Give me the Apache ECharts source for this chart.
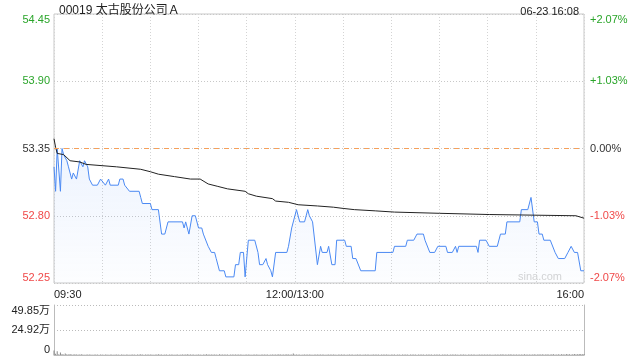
<!DOCTYPE html>
<html>
<head>
<meta charset="utf-8">
<style>
  html, body { margin: 0; padding: 0; background: #fff; }
  #chart { width: 640px; height: 360px; }
</style>
<script src="https://cdn.jsdelivr.net/npm/echarts@6/dist/echarts.min.js"></script>
</head>
<body>
<div id="chart"></div>
<script>
// minutes from 09:30 (lunch break removed), 330 = 16:00
const priceTimes = [0, 1, 2, 4, 5, 6, 7, 8, 9, 11, 12, 14, 16, 17, 18, 19, 20, 21, 22, 23, 24, 27, 29, 30, 32, 34, 35, 40, 41, 43, 44, 45, 47, 53, 54, 55, 60, 61, 65, 67, 69, 71, 80, 81, 82, 84, 85, 86, 88, 90, 92, 93, 94, 96, 98, 100, 101, 103, 106, 107, 112, 113, 115, 116, 118, 119, 120, 121, 125, 127, 128, 130, 132, 133, 135, 136, 137, 138, 145, 146, 147, 148, 149, 151, 153, 156, 158, 159, 161, 162, 164, 166, 167, 170, 171, 173, 175, 176, 181, 182, 185, 186, 188, 191, 200, 201, 211, 212, 219, 220, 224, 226, 230, 231, 232, 234, 237, 239, 244, 245, 248, 250, 251, 252, 263, 264, 265, 269, 271, 276, 278, 281, 282, 290, 291, 295, 297, 298, 299, 301, 302, 304, 305, 309, 312, 314, 318, 320, 322, 324, 326, 328, 330];
const priceValues = [53.20, 53.00, 53.35, 53.00, 53.35, 53.30, 53.30, 53.25, 53.20, 53.10, 53.15, 53.10, 53.25, 53.25, 53.20, 53.25, 53.25, 53.20, 53.10, 53.10, 53.05, 53.05, 53.10, 53.10, 53.05, 53.10, 53.05, 53.05, 53.10, 53.10, 53.05, 53.05, 53.00, 53.00, 52.95, 52.90, 52.90, 52.85, 52.85, 52.65, 52.65, 52.75, 52.75, 52.70, 52.75, 52.65, 52.65, 52.80, 52.80, 52.70, 52.70, 52.65, 52.65, 52.55, 52.50, 52.50, 52.45, 52.35, 52.35, 52.30, 52.30, 52.40, 52.40, 52.50, 52.50, 52.30, 52.30, 52.60, 52.60, 52.50, 52.40, 52.40, 52.45, 52.40, 52.35, 52.30, 52.30, 52.50, 52.50, 52.55, 52.55, 52.70, 52.70, 52.85, 52.75, 52.75, 52.85, 52.80, 52.75, 52.75, 52.40, 52.55, 52.50, 52.50, 52.55, 52.40, 52.40, 52.60, 52.60, 52.55, 52.55, 52.45, 52.45, 52.35, 52.35, 52.50, 52.50, 52.55, 52.55, 52.60, 52.60, 52.65, 52.65, 52.60, 52.60, 52.50, 52.50, 52.55, 52.55, 52.50, 52.50, 52.55, 52.50, 52.55, 52.55, 52.50, 52.60, 52.60, 52.55, 52.55, 52.65, 52.65, 52.75, 52.75, 52.85, 52.85, 52.95, 52.95, 52.75, 52.75, 52.65, 52.65, 52.60, 52.60, 52.50, 52.45, 52.45, 52.50, 52.55, 52.50, 52.50, 52.35, 52.35];

const avgTimes = [0, 1, 2, 6, 10, 16, 20, 39, 54, 60, 65, 75, 85, 91, 96, 102, 108, 119, 121, 126, 136, 138, 146, 152, 164, 174, 180, 187, 200, 212, 240, 271, 325, 330];
const avgValues = [53.43, 53.36, 53.31, 53.30, 53.25, 53.24, 53.22, 53.20, 53.18, 53.16, 53.14, 53.12, 53.10, 53.10, 53.06, 53.04, 53.02, 53.00, 52.98, 52.96, 52.94, 52.92, 52.91, 52.89, 52.88, 52.87, 52.86, 52.85, 52.84, 52.83, 52.82, 52.81, 52.80, 52.78];

// volume per minute, in 万 shares
const volumeWan = [
  4.5, 1.2, 3.8, 0.8, 2.6, 1.0, 0.6, 1.5, 0.7, 0.5, 0.9, 0.6, 0.4, 0.8, 0.5, 0.6, 0.4, 0.7, 0.5, 0.3, 0.6, 0.5, 0.4, 0.6, 0.3, 0.5, 0.4, 0.6, 0.3, 0.5,
  0.4, 0.3, 0.5, 0.6, 0.3, 0.4, 0.5, 0.3, 0.4, 0.6, 0.5, 0.3, 0.4, 0.5, 0.3, 0.6, 0.4, 0.3, 0.5, 0.4, 0.6, 0.3, 0.4, 0.5, 0.7, 0.4, 0.3, 0.5, 0.4, 0.6,
  0.5, 0.4, 0.3, 0.6, 0.5, 0.8, 0.4, 0.6, 0.3, 0.5, 0.4, 0.3, 0.5, 0.4, 0.6, 0.3, 0.4, 0.5, 0.3, 0.4, 0.6, 0.5, 0.4, 0.7, 0.5, 0.6, 0.4, 0.5, 0.3, 0.6,
  0.4, 0.5, 0.3, 0.6, 0.4, 0.7, 0.5, 0.4, 0.6, 0.5, 0.4, 0.6, 0.3, 0.8, 0.5, 0.4, 0.6, 0.5, 0.4, 0.3, 0.5, 0.4, 0.6, 0.5, 0.4, 0.6, 0.5, 0.4, 0.3, 0.5,
  0.6, 0.4, 0.5, 0.3, 0.4, 0.6, 0.5, 0.4, 0.3, 0.5, 0.4, 0.6, 0.5, 0.4, 0.3, 0.5, 0.6, 0.4, 0.5, 0.4, 0.7, 0.5, 0.4, 0.6, 0.5, 0.8, 0.6, 0.5, 0.4, 1.6,
  0.5, 0.6, 0.4, 0.5, 0.3, 0.6, 0.5, 0.4, 0.6, 0.5, 0.4, 0.3, 0.6, 0.5, 0.4, 0.5, 0.6, 0.4, 0.5, 0.3, 0.4, 0.6, 0.5, 0.4, 0.6, 0.5, 0.3, 0.4, 0.5, 0.6,
  0.4, 0.5, 0.3, 0.6, 0.4, 0.5, 0.4, 0.3, 0.5, 0.6, 0.4, 0.5, 0.3, 0.4, 0.6, 0.5, 0.4, 0.3, 0.5, 0.4, 0.6, 0.5, 0.4, 0.3, 0.5, 0.6, 0.4, 0.5, 0.4, 0.3,
  0.5, 0.4, 0.6, 0.3, 0.5, 0.4, 0.3, 0.6, 0.5, 0.4, 0.5, 0.3, 0.4, 0.6, 0.5, 0.4, 0.3, 0.5, 0.6, 0.4, 0.5, 0.3, 0.4, 0.5, 0.6, 0.4, 0.3, 0.5, 0.4, 0.6,
  0.4, 0.3, 0.5, 0.4, 0.6, 0.5, 0.3, 0.4, 0.5, 0.6, 0.4, 0.5, 0.3, 0.4, 0.6, 0.5, 0.4, 0.3, 0.5, 0.4, 0.6, 0.5, 0.4, 0.3, 0.5, 0.6, 0.4, 0.5, 0.4, 0.6,
  0.5, 0.4, 0.6, 0.3, 0.5, 0.4, 0.6, 0.5, 0.4, 0.7, 0.5, 0.4, 0.6, 0.5, 0.8, 0.6, 0.5, 0.4, 0.6, 0.5, 0.4, 0.6, 0.5, 0.7, 0.6, 0.5, 0.4, 0.6, 0.5, 0.7,
  0.6, 0.5, 0.7, 0.6, 0.8, 0.5, 0.6, 0.7, 0.5, 0.6, 0.8, 0.7, 0.6, 0.5, 0.7, 0.6, 0.8, 0.7, 0.6, 0.9, 0.7, 0.8, 0.6, 0.7, 0.9, 0.8, 0.7, 0.9, 1.0, 0.8,
  0.9
];

const prevClose = 53.35;
const priceMin = 52.25;
const priceMax = 54.45;
const priceStep = 0.55;
const pctLabels = ["-2.07%", "-1.03%", "0.00%", "+1.03%", "+2.07%"];
const volMax = 498500;
const volLabels = ["0", "24.92万", "49.85万"];
const xTickValues = [0, 150, 330];
const xTickLabels = ["09:30", "12:00/13:00", "16:00"];

const FONT = "'Liberation Sans', Arial, 'Noto Sans CJK SC', sans-serif";
const UP = "#2aa52a";
const DOWN = "#f04848";

function tickColor(v) {
  v = parseFloat(v);
  if (Math.abs(v - prevClose) < 1e-6) return "#333";
  return v > prevClose ? UP : DOWN;
}

const chart = echarts.init(document.getElementById("chart"));
chart.setOption({
  animation: false,
  textStyle: { fontFamily: FONT },
  title: [
    {
      text: "00019 太古股份公司Ａ",
      left: 54, top: 0,
      textStyle: { fontSize: 12, fontWeight: "normal", color: "#222", fontFamily: FONT }
    },
    {
      text: "06-23 16:08",
      right: 56, top: 1,
      textStyle: { fontSize: 11, fontWeight: "normal", color: "#222", fontFamily: FONT }
    }
  ],
  graphic: [
    {
      type: "text", right: 78, top: 271, silent: true,
      style: { text: "sina.com", fill: "#d4d4d4", font: "11px " + FONT }
    }
  ],
  grid: [
    { left: 54, right: 56, top: 14, height: 269, show: true, borderColor: "#c8c8c8", borderWidth: 1 },
    { left: 54, right: 56, top: 305, height: 50 }
  ],
  xAxis: [
    {
      type: "value", gridIndex: 0, min: 0, max: 330, interval: 30,
      axisLine: { show: false }, axisTick: { show: false },
      splitLine: { show: true, lineStyle: { type: [1, 2], color: "#d4d4d4" } },
      axisLabel: {
        margin: 6, fontSize: 11, color: "#222", fontFamily: FONT,
        alignMinLabel: "left", alignMaxLabel: "right",
        showMinLabel: true, showMaxLabel: true,
        formatter: function (v) {
          const i = xTickValues.indexOf(v);
          return i >= 0 ? xTickLabels[i] : "";
        }
      }
    },
    {
      type: "value", gridIndex: 1, min: 0, max: 330, interval: 30,
      axisLine: { show: true, lineStyle: { color: "#bbb" } },
      axisTick: { show: false }, axisLabel: { show: false },
      splitLine: { show: false }
    }
  ],
  yAxis: [
    {
      type: "value", gridIndex: 0, min: priceMin, max: priceMax, interval: priceStep,
      axisLine: { show: false }, axisTick: { show: false },
      splitLine: { show: true, lineStyle: { type: [1, 2], color: "#c8c8c8" } },
      axisLabel: {
        margin: 4, fontSize: 11, fontFamily: FONT,
        verticalAlignMinLabel: "bottom", verticalAlignMaxLabel: "top",
        color: function (v) { return tickColor(v); },
        formatter: function (v) { return v.toFixed(2); }
      }
    },
    {
      type: "value", gridIndex: 0, position: "right", min: priceMin, max: priceMax, interval: priceStep,
      axisLine: { show: false }, axisTick: { show: false }, splitLine: { show: false },
      axisLabel: {
        margin: 6, fontSize: 11, fontFamily: FONT,
        verticalAlignMinLabel: "bottom", verticalAlignMaxLabel: "top",
        color: function (v) { return tickColor(v); },
        formatter: function (v) { return pctLabels[Math.round((v - priceMin) / priceStep)]; }
      }
    },
    {
      type: "value", gridIndex: 1, min: 0, max: volMax, interval: volMax / 2,
      axisLine: { show: true, lineStyle: { color: "#bbb" } }, axisTick: { show: false },
      splitLine: { show: true, lineStyle: { type: [1, 2], color: "#bbb" } },
      axisLabel: {
        margin: 4, fontSize: 11, color: "#222", fontFamily: FONT,
        verticalAlignMinLabel: "bottom", verticalAlignMaxLabel: "top",
        formatter: function (v) { return volLabels[Math.round(v / (volMax / 2))]; }
      }
    },
    {
      type: "value", gridIndex: 1, position: "right", min: 0, max: volMax, interval: volMax / 2,
      axisLine: { show: true, lineStyle: { color: "#bbb" } }, axisTick: { show: false },
      axisLabel: { show: false }, splitLine: { show: false }
    }
  ],
  series: [
    {
      name: "price", type: "line", xAxisIndex: 0, yAxisIndex: 0,
      data: priceTimes.map((t, i) => [t, priceValues[i]]),
      symbol: "none", silent: true,
      lineStyle: { color: "#4a89f3", width: 1 },
      areaStyle: {
        origin: "start",
        color: {
          type: "linear", x: 0, y: 0, x2: 0, y2: 1,
          colorStops: [
            { offset: 0, color: "rgba(74,137,243,0.14)" },
            { offset: 1, color: "rgba(74,137,243,0.02)" }
          ]
        }
      },
      markLine: {
        silent: true, symbol: "none", label: { show: false },
        lineStyle: { color: "#f5a05a", type: [5, 5], width: 1 },
        data: [{ yAxis: prevClose }]
      },
      z: 3
    },
    {
      name: "avg", type: "line", xAxisIndex: 0, yAxisIndex: 0,
      data: avgTimes.map((t, i) => [t, avgValues[i]]),
      symbol: "none", silent: true,
      lineStyle: { color: "#222", width: 1 },
      z: 4
    },
    {
      name: "volume", type: "bar", xAxisIndex: 1, yAxisIndex: 2,
      data: volumeWan.map((v, i) => [i, v * 10000]),
      barWidth: 1, silent: true,
      itemStyle: { color: "#888" }
    }
  ]
});
</script>
</body>
</html>
